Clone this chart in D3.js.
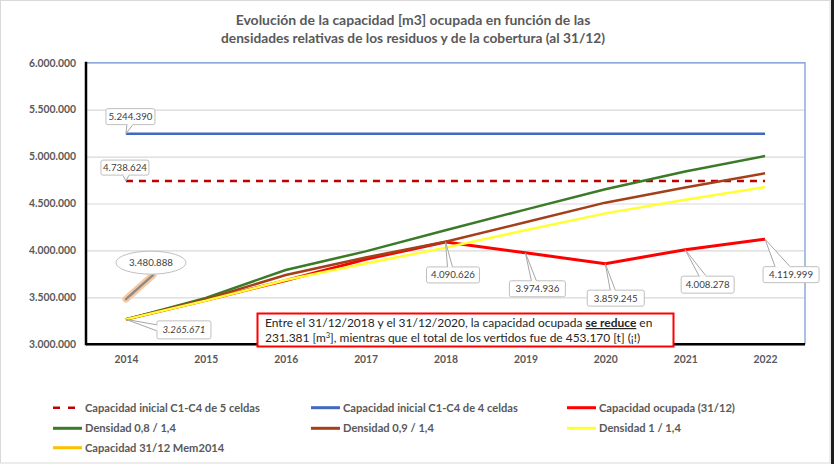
<!DOCTYPE html>
<html>
<head>
<meta charset="utf-8">
<script src="https://cdn.jsdelivr.net/npm/d3@7"></script>
<style>
  body { margin: 0; background: #fff; }
  svg text { font-family: Lato, "Open Sans", sans-serif; }
</style>
</head>
<body>
<svg id="chart"></svg>
<script>
let w = 834;
let h = 464;

// data
let years = [2014, 2015, 2016, 2017, 2018, 2019, 2020, 2021, 2022];
let cap5celdas = [4738624, 4738624, 4738624, 4738624, 4738624, 4738624, 4738624, 4738624, 4738624];
let cap4celdas = [5244390, 5244390, 5244390, 5244390, 5244390, 5244390, 5244390, 5244390, 5244390];
let ocupada = [3265671, 3470000, 3680000, 3905000, 4090626, 3974936, 3859245, 4008278, 4119999];
let dens08 = [3265671, 3495000, 3792000, 3990000, 4215000, 4435000, 4651000, 4840000, 5006000];
let dens09 = [3265671, 3480000, 3738000, 3925000, 4093000, 4300000, 4509000, 4670000, 4822000];
let dens10 = [3265671, 3465000, 3685000, 3860000, 4030000, 4215000, 4395000, 4540000, 4676000];
let mem2014 = [3480888];
let yTicks = [3000000, 3500000, 4000000, 4500000, 5000000, 5500000, 6000000];

let titleLines = [
  "Evolución de la capacidad [m3] ocupada en función de las",
  "densidades relativas de los residuos y de la cobertura (al 31/12)"
];

let series = [
  { name: "Capacidad inicial C1-C4 de 5 celdas", values: cap5celdas, color: "#c00000", width: 2.5, dash: "7,6" },
  { name: "Capacidad inicial C1-C4 de 4 celdas", values: cap4celdas, color: "#4268c0", width: 2.5 },
  { name: "Capacidad ocupada (31/12)", values: ocupada, color: "#ff0000", width: 3 },
  { name: "Densidad 0,8 / 1,4", values: dens08, color: "#3b7a28", width: 2.5 },
  { name: "Densidad 0,9 / 1,4", values: dens09, color: "#a3401a", width: 2.5 },
  { name: "Densidad 1 / 1,4", values: dens10, color: "#ffff33", width: 2.5 },
  { name: "Capacidad 31/12 Mem2014", values: mem2014, color: "#ffc000", width: 2.5 }
];

// which points get a data label, box placed relative to the point
let labels = [
  { s: 1, i: 0, dx: -20, dy: -25, bw: 49, bh: 16, side: "bottom", a: 21, b: 27 },
  { s: 0, i: 0, dx: -25, dy: -21, bw: 48, bh: 15, side: "bottom", a: 22, b: 28 },
  { s: 2, i: 0, dx: 31, dy: 1.5, bw: 54, bh: 18, side: "left", a: 4, b: 10, italic: true },
  { s: 2, i: 4, dx: -19, dy: 25, bw: 53, bh: 16, side: "top", a: 21, b: 26 },
  { s: 2, i: 5, dx: -16, dy: 28, bw: 56, bh: 16, side: "top", a: 22, b: 27 },
  { s: 2, i: 6, dx: -18, dy: 26.5, bw: 57, bh: 16, side: "top", a: 23, b: 28 },
  { s: 2, i: 7, dx: -4, dy: 26.5, bw: 53, bh: 17, side: "top", a: 18, b: 25 },
  { s: 2, i: 8, dx: -2, dy: 27.5, bw: 56, bh: 16, side: "top", a: 12, b: 27 }
];

let es = d3.formatLocale({ decimal: ",", thousands: ".", grouping: [3], currency: ["", "€"] });
let fmt = es.format(",d");

let svg = d3.select("#chart").attr("width", w).attr("height", h);

// outer frame
svg.append("rect").attr("x", 0.5).attr("y", 0.5).attr("width", 829.5).attr("height", 462.5)
  .attr("fill", "#fff").attr("stroke", "#d9d9d9");
svg.append("rect").attr("x", 831).attr("y", 0).attr("width", 3).attr("height", h).attr("fill", "#1e1e1e");

let pLeft = 86, pRight = 805, pTop = 62.7, pBottom = 344.3;

let xScale = d3.scalePoint().domain(years).range([pLeft, pRight]).padding(0.5);
let yScale = d3.scaleLinear().domain([3000000, 6000000]).range([pBottom, pTop]);

// title
let title = svg.append("g").attr("class", "title");
title.selectAll("text").data(titleLines).join("text")
  .attr("x", 413)
  .attr("y", (d, i) => 24.5 + i * 18)
  .attr("text-anchor", "middle")
  .attr("font-weight", "bold")
  .attr("font-size", 12.5)
  .attr("fill", "#595959")
  .text(d => d);

// grid
svg.append("g")
  .attr("transform", `translate(${pLeft},0)`)
  .call(d3.axisLeft(yScale).tickValues(yTicks).tickSize(-(pRight - pLeft)).tickFormat(""))
  .call(g => g.select(".domain").remove())
  .call(g => g.selectAll("line").attr("stroke", "#d9d9d9").attr("stroke-width", 1.2));

// plot border top & right
svg.append("path")
  .attr("d", `M${pLeft},${pTop}H${pRight}V${pBottom}`)
  .attr("fill", "none").attr("stroke", "#8eaadb").attr("stroke-width", 1.5);

// axes
let yAxisGroup = svg.append("g")
  .attr("transform", `translate(${pLeft},0)`)
  .call(d3.axisLeft(yScale).tickValues(yTicks).tickSize(0).tickPadding(10).tickFormat(fmt));
yAxisGroup.select(".domain").remove();
yAxisGroup.selectAll("text").attr("class", "ytick").attr("font-size", 10.5).attr("font-weight", "bold").attr("fill", "#595959");

let xAxisGroup = svg.append("g")
  .attr("transform", `translate(0,${pBottom})`)
  .call(d3.axisBottom(xScale).tickSize(0).tickPadding(11));
xAxisGroup.select(".domain").remove();
xAxisGroup.selectAll("text").attr("class", "xtick").attr("font-size", 10.5).attr("font-weight", "bold").attr("fill", "#595959");

svg.append("line").attr("x1", pLeft).attr("x2", pLeft).attr("y1", pTop - 1).attr("y2", pBottom + 1)
  .attr("stroke", "#000").attr("stroke-width", 2.5);
svg.append("line").attr("x1", pLeft).attr("x2", pRight).attr("y1", pBottom).attr("y2", pBottom)
  .attr("stroke", "#000").attr("stroke-width", 2.5);

// lines
let line = d3.line()
  .x((d, i) => xScale(years[i]))
  .y(d => yScale(d));

series.forEach(s => {
  if (s.values.length < 2) return;
  svg.append("path")
    .datum(s.values)
    .attr("fill", "none")
    .attr("stroke", s.color)
    .attr("stroke-width", s.width)
    .attr("stroke-dasharray", s.dash || null)
    .attr("d", line);
});

// Mem2014 single point: label with glowing leader line
let mx = xScale(years[0]), my = yScale(mem2014[0]);
svg.append("line").attr("x1", mx).attr("y1", my).attr("x2", mx + 27).attr("y2", my - 24)
  .attr("stroke", "#f8c9a0").attr("stroke-width", 7).attr("stroke-linecap", "round");
svg.append("line").attr("x1", mx).attr("y1", my).attr("x2", mx + 27).attr("y2", my - 24)
  .attr("stroke", "#8c8c8c").attr("stroke-width", 2.5).attr("stroke-linecap", "round");
svg.append("ellipse").attr("cx", mx + 25).attr("cy", my - 36.5).attr("rx", 35).attr("ry", 11.5)
  .attr("fill", "#fff").attr("stroke", "#bfbfbf");
svg.append("text").attr("class", "dlabel")
  .attr("x", mx + 25).attr("y", my - 36.5).attr("dy", "0.35em")
  .attr("text-anchor", "middle").attr("font-size", 10).attr("fill", "#404040")
  .text(fmt(mem2014[0]));

// callout data labels
labels.forEach(l => {
  let v = series[l.s].values[l.i];
  let px = xScale(years[l.i]), py = yScale(v);
  let bx = px + l.dx, by = py + l.dy;
  let wedge;
  if (l.side === "bottom") wedge = [[bx + l.a, by + l.bh], [px, py], [bx + l.b, by + l.bh]];
  else if (l.side === "top") wedge = [[bx + l.a, by], [px, py], [bx + l.b, by]];
  else wedge = [[bx, by + l.a], [px, py], [bx, by + l.b]];
  svg.append("path")
    .attr("d", d3.line()(wedge))
    .attr("fill", "#fff").attr("stroke", "#a6a6a6").attr("stroke-width", 1);
  svg.append("rect").attr("x", bx).attr("y", by).attr("width", l.bw).attr("height", l.bh)
    .attr("rx", 2).attr("fill", "#fff").attr("stroke", "#bfbfbf");
  // cover the wedge base
  let bs = l.side === "left" ? [bx - 0.75, by + l.a + 0.5, 1.5, l.b - l.a - 1]
    : [bx + l.a + 0.5, (l.side === "top" ? by : by + l.bh) - 0.75, l.b - l.a - 1, 1.5];
  svg.append("rect").attr("x", bs[0]).attr("y", bs[1]).attr("width", bs[2]).attr("height", bs[3]).attr("fill", "#fff");
  svg.append("text").attr("class", "dlabel")
    .attr("x", bx + l.bw / 2).attr("y", by + l.bh / 2).attr("dy", "0.35em")
    .attr("text-anchor", "middle").attr("font-size", 10).attr("fill", "#404040")
    .attr("font-style", l.italic ? "italic" : null)
    .text(fmt(v));
});

// note box
let note = svg.append("g");
note.append("rect").attr("x", 257.5).attr("y", 313.5).attr("width", 416).attr("height", 33)
  .attr("fill", "#fff").attr("stroke", "#ff0000").attr("stroke-width", 2);
let n1 = note.append("text").attr("class", "note").attr("x", 265).attr("y", 327).attr("font-size", 11).attr("fill", "#262626");
n1.append("tspan").text("Entre el 31/12/2018 y el 31/12/2020, la capacidad ocupada ");
n1.append("tspan").attr("font-weight", "bold").attr("text-decoration", "underline").text("se reduce");
n1.append("tspan").text(" en");
let n2 = note.append("text").attr("class", "note").attr("x", 265).attr("y", 341.5).attr("font-size", 11).attr("fill", "#262626");
n2.append("tspan").text("231.381 [m");
n2.append("tspan").attr("font-size", 7.5).attr("dy", -4).text("3");
n2.append("tspan").attr("dy", 4).text("], mientras que el total de los vertidos fue de 453.170 [t] (¡!)");

// legend
let legendPos = [
  [53, 407.7], [311, 407.7], [567, 407.7],
  [53, 428.3], [311, 428.3], [567, 428.3],
  [53, 447.7]
];
let legend = svg.append("g");
series.forEach((s, i) => {
  let [lx, ly] = legendPos[i];
  legend.append("line").attr("x1", lx).attr("x2", lx + 29).attr("y1", ly).attr("y2", ly)
    .attr("stroke", s.color).attr("stroke-width", s.dash ? 2.5 : 3)
    .attr("stroke-dasharray", s.dash ? "7,8" : null);
  legend.append("text").attr("class", "ltext").attr("x", lx + 32).attr("y", ly).attr("dy", "0.35em")
    .attr("font-size", 11).attr("font-weight", "bold").attr("fill", "#595959")
    .text(s.name);
});

// fit font sizes so the texts take the same width as in the picture
function fit(sel, target) {
  let node = sel.node();
  let fs = parseFloat(d3.select(node).attr("font-size"));
  let len = node.getComputedTextLength();
  let nfs = fs * target / len;
  sel.attr("font-size", nfs);
  return nfs;
}
fit(title.selectAll("text").filter((d, i) => i === 0), 355);
fit(title.selectAll("text").filter((d, i) => i === 1), 384);
let ys = fit(svg.selectAll(".ytick").filter((d, i, n) => i === n.length - 1), 47);
svg.selectAll(".ytick").attr("font-size", ys);
let xs = fit(svg.selectAll(".xtick").filter((d, i) => i === 0), 24);
svg.selectAll(".xtick").attr("font-size", xs);
let ls = fit(svg.selectAll(".ltext").filter((d, i) => i === 0), 175);
svg.selectAll(".ltext").attr("font-size", ls);
let ns = fit(svg.selectAll(".note").filter((d, i) => i === 0), 388);
svg.selectAll(".note").attr("font-size", ns);
let ds = fit(svg.selectAll(".dlabel").filter((d, i) => i === 4), 44);
svg.selectAll(".dlabel").attr("font-size", ds);
</script>
</body>
</html>
